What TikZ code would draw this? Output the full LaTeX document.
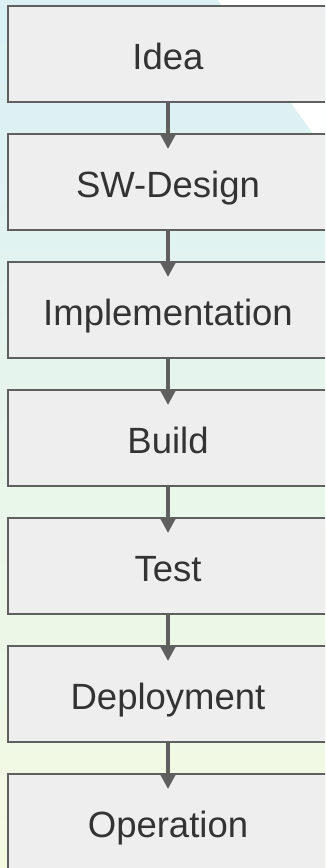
\documentclass[tikz,border=0pt]{standalone}
\usepackage{fontspec}
\setmainfont{Liberation Sans}
\usetikzlibrary{arrows.meta}

\definecolor{bgtop}{HTML}{DAF0F5}
\definecolor{bgbottom}{HTML}{F4FAE2}
\definecolor{boxfill}{HTML}{EEEEEE}
\definecolor{boxline}{HTML}{5F5F5F}
\definecolor{textcol}{HTML}{333333}

\tikzset{
  stage/.style={
    rectangle, draw=boxline, line width=2pt, fill=boxfill,
    minimum width=320pt, minimum height=96pt, outer sep=0pt,
    anchor=north, text=textcol,
    font=\fontsize{36.5pt}{40pt}\selectfont,
    text height=30pt, text depth=0pt
  },
  flow/.style={
    draw=boxline, line width=4.3pt,
    -{Triangle[width=15pt,length=15pt]},
    shorten >=-15pt
  }
}

\begin{document}
\begin{tikzpicture}[x=1pt,y=1pt]
  \useasboundingbox (0,0) rectangle (325,-868);
  \clip (0,0) rectangle (325,-868);

  % background wash with a white corner wedge
  \shade[top color=bgtop, bottom color=bgbottom] (0,0) rectangle (325,-868);
  \fill[white] (218,0) -- (326,0) -- (326,-152) -- cycle;

  % process stages
  \node[stage] (idea)   at (168,-6)   {Idea};
  \node[stage] (design) at (168,-134) {SW-Design};
  \node[stage] (impl)   at (168,-262) {Implementation};
  \node[stage] (build)  at (168,-390) {Build};
  \node[stage] (test)   at (168,-518) {Test};
  \node[stage] (deploy) at (168,-646) {Deployment};
  \node[stage] (oper)   at (168,-774) {Operation};

  % connectors
  \draw[flow] (idea.south)   -- (design.north);
  \draw[flow] (design.south) -- (impl.north);
  \draw[flow] (impl.south)   -- (build.north);
  \draw[flow] (build.south)  -- (test.north);
  \draw[flow] (test.south)   -- (deploy.north);
  \draw[flow] (deploy.south) -- (oper.north);
\end{tikzpicture}
\end{document}
